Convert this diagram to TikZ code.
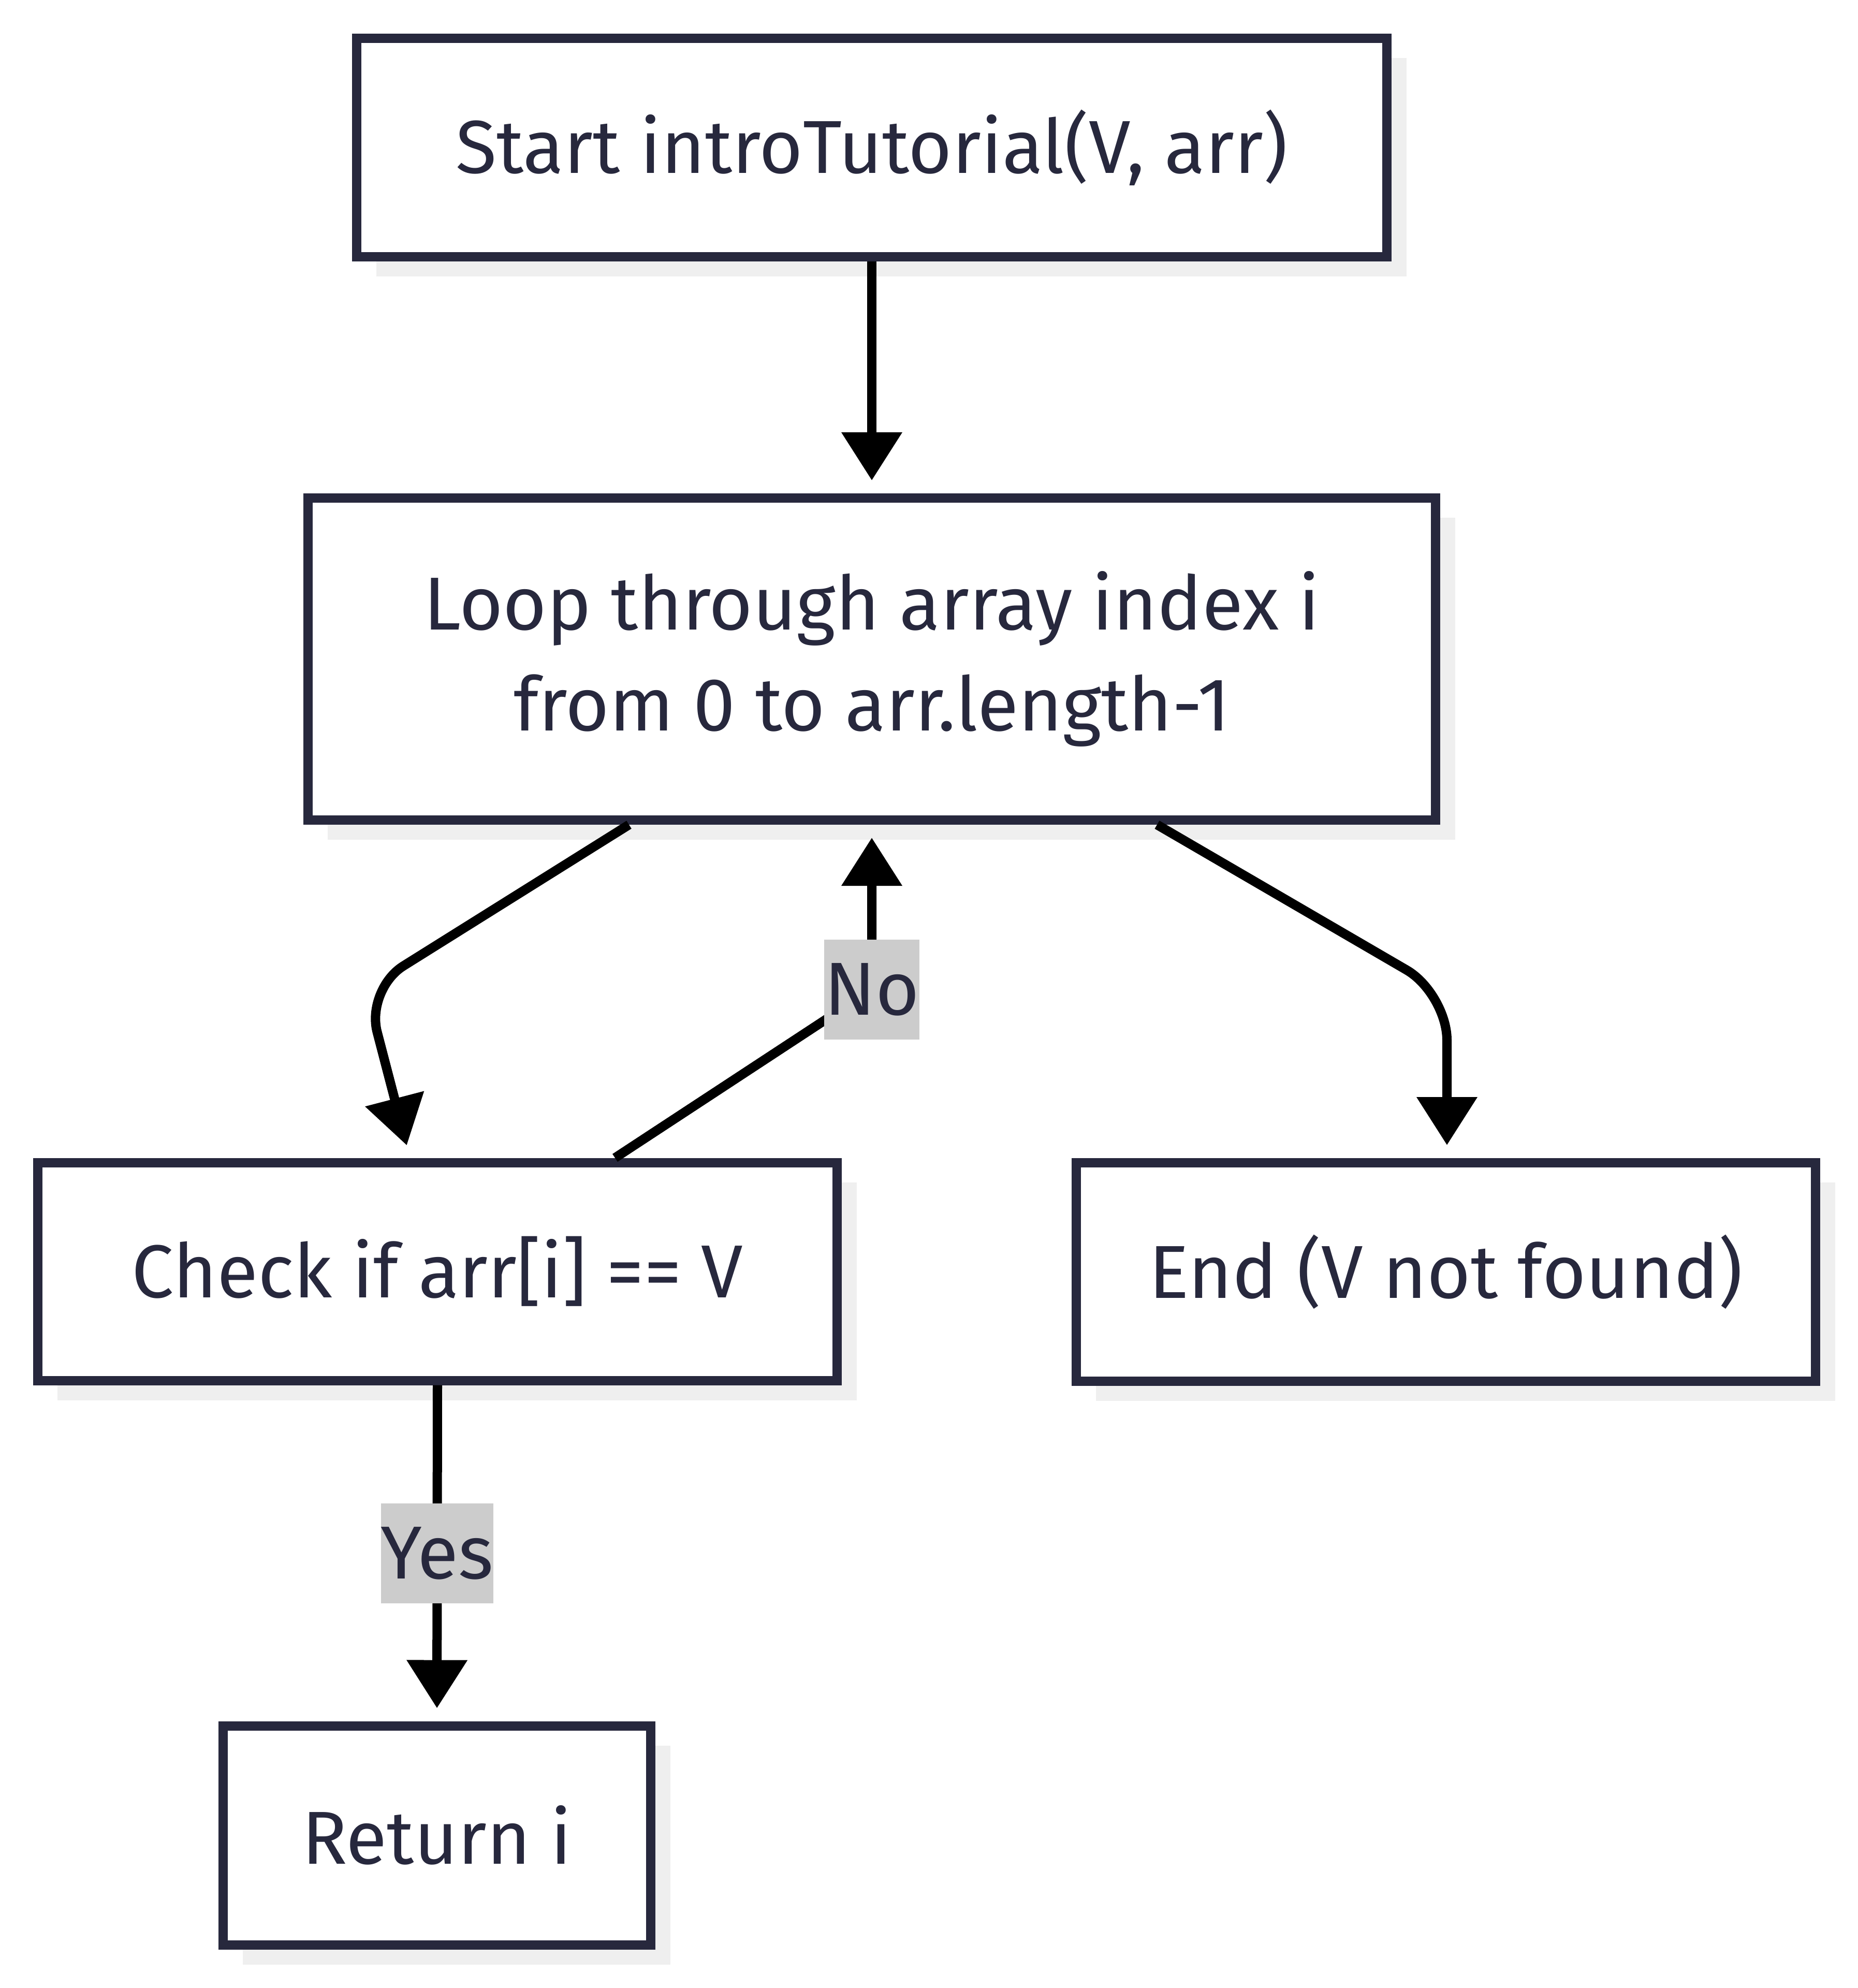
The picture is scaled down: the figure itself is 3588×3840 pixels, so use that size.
\documentclass[tikz,border=0pt]{standalone}
\usepackage{fontspec}
\setmainfont{Fira Sans}
\usetikzlibrary{arrows.meta,shadows,calc}
\definecolor{navy}{HTML}{27283D}
\definecolor{shadowc}{HTML}{EFEFEF}
\definecolor{lblbg}{HTML}{CCCCCC}
\begin{document}
\begin{tikzpicture}[x=0.2pt,y=-0.2pt,
  box/.style={draw=navy, line width=3.6pt, fill=white, text=navy, align=center,
    font=\fontsize{29}{39}\selectfont, inner sep=0pt,
    general shadow={fill=shadowc, shadow xshift=7.6pt, shadow yshift=-7.6pt}},
  conn/.style={draw=black, line width=3.6pt, -{Triangle[length=18.6pt,width=22.6pt]}, shorten >=5pt},
  lbl/.style={fill=lblbg, text=navy, font=\fontsize{29}{39}\selectfont, inner xsep=0pt, inner ysep=0pt, minimum height=38.6pt}]
\useasboundingbox (0,0) rectangle (3588,3840);
\node[box, minimum width=398pt, minimum height=84.4pt] (start) at (1684,285) {Start introTutorial(V, arr)};
\node[box, minimum width=435.4pt, minimum height=124.4pt] (loop) at (1684,1273) {Loop through array index i\\from 0 to arr.length-1};
\node[box, minimum width=308.6pt, minimum height=84.2pt] (check) at (845,2456) {Check if arr[i] == V};
\node[box, minimum width=285.6pt, minimum height=84.4pt] (end) at (2793,2457) {End (V not found)};
\node[box, minimum width=165pt, minimum height=84.6pt] (ret) at (844,3545) {Return i};
\coordinate (b1) at (707,1911);
\coordinate (b2) at (2795,1919);
\coordinate (b3) at (1684,1911);
\draw[conn] (start.south) -- (loop.north);
\draw[conn, rounded corners=17pt] ([xshift=-93.8pt]loop.south) -- (b1) -- ([xshift=-10.6pt]check.north);
\draw[conn, rounded corners=18pt] ([xshift=110.2pt]loop.south) -- (b2) -- ([xshift=0.4pt]end.north);
\draw[conn] ([xshift=68.6pt]check.north) -- (b3) -- (loop.south);
\node[lbl] (no) at (b3) {No};
\draw[conn] (check.south) -- node[lbl, pos=0.5] (yes) {Yes} (ret.north);
\end{tikzpicture}
\end{document}
